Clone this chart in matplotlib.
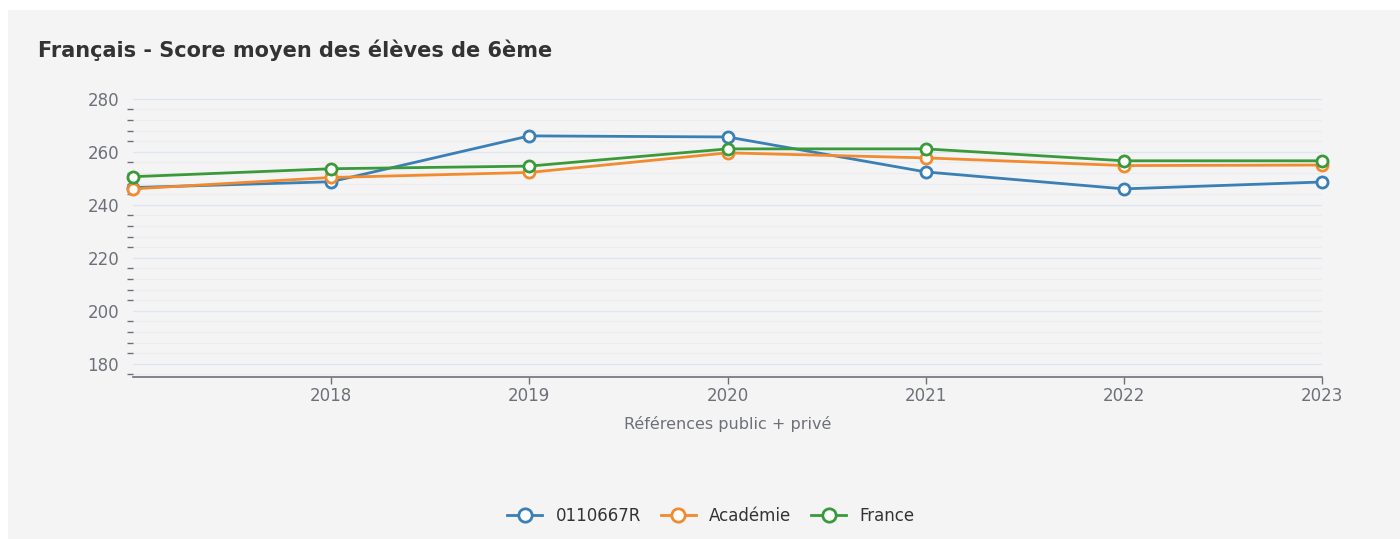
import matplotlib.pyplot as plt
from matplotlib.ticker import MultipleLocator
from matplotlib.patches import Rectangle

annees = [2017, 2018, 2019, 2020, 2021, 2022, 2023]
etab = [246.5, 248.7, 266.0, 265.6, 252.4, 246.0, 248.6]
academie = [246.0, 250.3, 252.2, 259.6, 257.7, 254.8, 255.0]
france = [250.6, 253.6, 254.6, 261.1, 261.1, 256.6, 256.6]
noms = ['0110667R', 'Académie', 'France']
couleurs = ['#3a7fb5', '#f28a2e', '#3a9a3a']

plt.rcParams['font.family'] = ['DejaVu Sans']

fig = plt.figure(figsize=(14, 5.39), dpi=100)
fig.patch.set_facecolor('white')
fig.patches.append(Rectangle((8 / 1400, 0), 1, 1 - 10 / 539, transform=fig.transFigure,
                             facecolor='#f4f4f4', edgecolor='none', zorder=-10))

ax = fig.add_axes([133 / 1400, 1 - 377 / 539, (1322 - 133) / 1400, (377 - 98) / 539])
ax.set_facecolor('none')

for serie, nom, c in zip([etab, academie, france], noms, couleurs):
    ax.plot(annees, serie, color=c, linewidth=2, marker='o', markersize=8,
            markerfacecolor='white', markeredgecolor=c, markeredgewidth=2,
            label=nom, clip_on=False, zorder=3)

ax.set_xlim(2017, 2023)
ax.set_ylim(175, 280.3)
ax.set_xticks(annees[1:])
ax.yaxis.set_major_locator(MultipleLocator(20))
ax.yaxis.set_minor_locator(MultipleLocator(4))

ax.grid(axis='y', which='major', color='#e0e6f1', linewidth=1)
ax.grid(axis='y', which='minor', color='#ececf0', linewidth=0.8)
ax.set_axisbelow(True)

for s in ['top', 'right', 'left']:
    ax.spines[s].set_visible(False)
ax.spines['bottom'].set_color('#6e7079')
ax.spines['bottom'].set_linewidth(1.2)

ax.tick_params(axis='x', colors='#6e7079', labelsize=12, length=5, width=1, pad=2)
ax.tick_params(axis='y', which='major', length=0, labelsize=12, labelcolor='#6e7079', pad=10)
ax.tick_params(axis='y', which='minor', length=4, width=1, color='#6e7079')

ax.set_xlabel('Références public + privé', fontsize=11.5, color='#6e7079', labelpad=8)

fig.text(38 / 1400, 1 - 50 / 539, 'Français - Score moyen des élèves de 6ème',
         fontsize=15, fontweight='bold', color='#333333', va='center', ha='left')

fig.legend(loc='center', bbox_to_anchor=(711 / 1400, 1 - 516 / 539), ncol=3, frameon=False,
           fontsize=12, labelcolor='#333333', handlelength=2.1, columnspacing=1.2,
           handletextpad=0.8, markerscale=1.2)

fig.savefig('out.png', dpi=100, facecolor=fig.get_facecolor())
